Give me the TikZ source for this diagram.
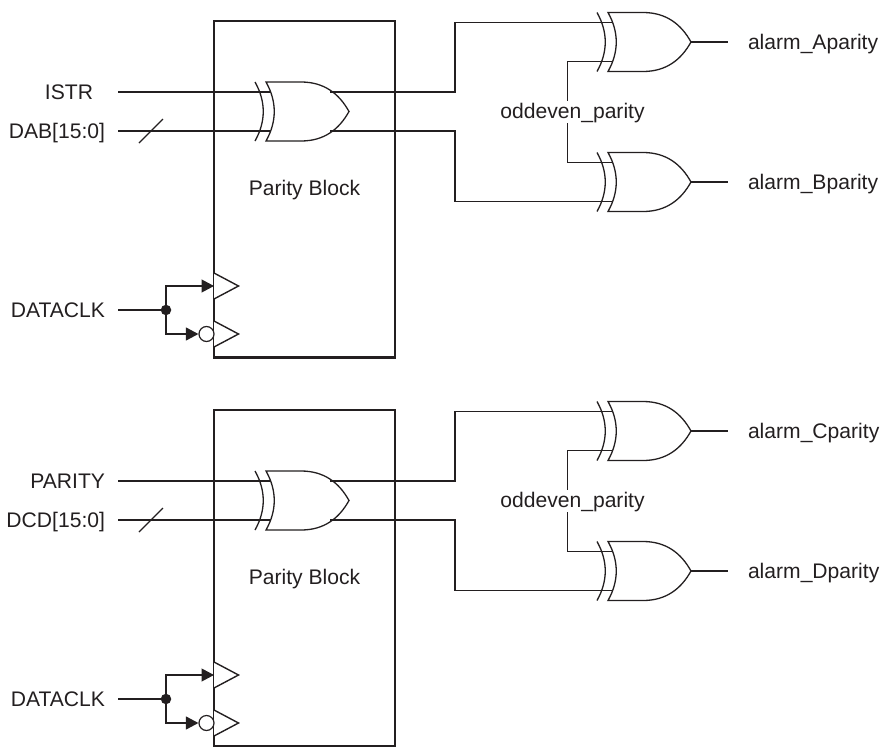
\documentclass[tikz,border=0pt]{standalone}
\usepackage{fontspec}
\setmainfont{Liberation Sans}
\usetikzlibrary{arrows.meta}
\definecolor{inkdark}{HTML}{231F20}

\tikzset{
  wire/.style={line width=1.2pt,inkdark},
  block/.style={line width=2.3pt,inkdark},
  labelfont/.style={text=inkdark,font=\fontsize{21.1}{25}\selectfont},
  siglabel/.style={labelfont,inner sep=0pt,text height=15pt,text depth=0pt},
  inlabel/.style={siglabel,anchor=east},
  outlabel/.style={siglabel,anchor=west,outer xsep=20pt},
  midlabel/.style={labelfont,inner sep=0pt,text height=17pt,text depth=5pt},
  clkarrow/.style={wire,-{Triangle[length=12.5pt,width=13pt]}},
  xorgate/.pic={
    \draw[wire,line width=1.3pt,fill=white] (-83,-29.5) -- (-48,-29.5) .. controls (-25,-29.5) and (-10,-18) .. (0,0)
      .. controls (-10,18) and (-25,29.5) .. (-48,29.5) -- (-83,29.5)
      .. controls (-72,10) and (-72,-10) .. (-83,-29.5) -- cycle;
    \draw[wire,line width=1.3pt] (-94,-29.5) .. controls (-83,-10) and (-83,10) .. (-94,29.5);
    \coordinate (-in1) at (-78,-19.5);
    \coordinate (-in2) at (-78,19.5);
    \coordinate (-out1) at (-19,-19.5);
    \coordinate (-out2) at (-19,19.5);
    \coordinate (-out) at (0,0);
  }
}

\begin{document}
\begin{tikzpicture}[x=1pt,y=-1pt]
\useasboundingbox (0,0) rectangle (881,747);

\foreach \n/\dy/\inA/\gapA/\inB/\outA/\outB in {1/0/ISTR/25pt/DAB[15:0]/alarm\_Aparity/alarm\_Bparity,
                                                2/389/PARITY/13pt/DCD[15:0]/alarm\_Cparity/alarm\_Dparity}{
\begin{scope}[shift={(0,\dy)}]
% parity block
\draw[block] (214,21) rectangle (395,357.5);
\node[labelfont] (title\n) at (304.5,190) {Parity Block};

% gates
\pic (xorL\n) at (349,111.5) {xorgate};
\pic (xorA\n) at (691,42) {xorgate};
\pic (xorB\n) at (691,182) {xorgate};

% inputs
\node[inlabel,outer xsep=\gapA] (sigA\n) at (118,92) {\inA};
\node[inlabel,outer xsep=13pt] (sigB\n) at (118,131) {\inB};
\draw[wire] (sigA\n.east) -- (sigA\n.east -| xorL\n-in1);
\draw[wire] (sigB\n.east) -- (sigB\n.east -| xorL\n-in2);
\draw[wire] (139,143) -- (163,119);

% outputs of the block
\coordinate (jogA\n) at (455,92);
\coordinate (jogB\n) at (455,131);
\draw[wire] (xorL\n-out1) -- (jogA\n) |- (xorA\n-in1);
\draw[wire] (xorL\n-out2) -- (jogB\n) |- (xorB\n-in2);

% odd/even select
\node[midlabel] (odd\n) at (572.5,112) {oddeven\_parity};
\draw[wire] ([xshift=-5pt]odd\n.north) |- (xorA\n-in2);
\draw[wire] ([xshift=-5pt]odd\n.south) |- (xorB\n-in1);

% alarms
\node[outlabel] (alarmA\n) at (728,42) {\outA};
\node[outlabel] (alarmB\n) at (728,182) {\outB};
\draw[wire] (xorA\n-out) -- (alarmA\n.west);
\draw[wire] (xorB\n-out) -- (alarmB\n.west);

% clock
\draw[wire,line width=1.4pt,fill=white] (214,273) -- (238.5,286) -- (214,299);
\draw[wire,line width=1.4pt,fill=white] (214,321) -- (238.5,334) -- (214,347);
\node[inlabel,outer xsep=13pt] (clk\n) at (118,310) {DATACLK};
\node[circle,fill=inkdark,inner sep=0pt,minimum size=10.5pt] (dot\n) at (166,310) {};
\node[circle,draw,wire,fill=white,inner sep=0pt,minimum size=15pt] (bub\n) at (206.5,334) {};
\coordinate (pos\n) at (214,286);
\draw[wire] (clk\n.east) -- (dot\n);
\draw[clkarrow] (dot\n) |- (pos\n);
\draw[clkarrow] (dot\n) |- (bub\n.west);
\end{scope}
}
\end{tikzpicture}
\end{document}
